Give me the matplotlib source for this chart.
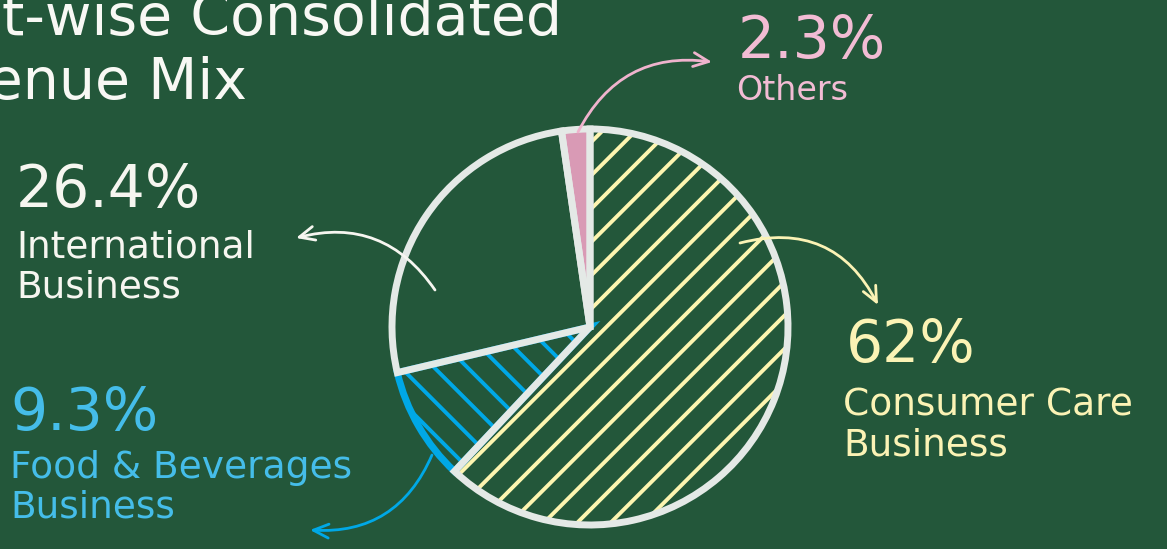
import matplotlib.pyplot as plt

# =========================
# DATA
# =========================

segments = ["Others", "International\nBusiness", "Food & Beverages\nBusiness", "Consumer Care\nBusiness"]
shares = [2.3, 26.4, 9.3, 62.0]
pct_labels = ["2.3%", "26.4%", "9.3%", "62%"]

# =========================
# STYLE
# =========================

BG = "#23573a"
CHALK = "#e4e9e6"
colors_text = ["#f2bcd4", "#f6f6f0", "#45bde9", "#fbf3b5"]
fills = ["#d99ab5", "none", "none", "none"]
hatch_cols = [None, None, "#00a8e6", "#fdf5b0"]
hatches = [None, None, "\\", "/"]

plt.rcParams['font.family'] = ['DejaVu Sans']
plt.rcParams['hatch.linewidth'] = 2.8

W, H = 1167, 549
fig = plt.figure(figsize=(W / 100, H / 100), dpi=100, facecolor=BG)
ax = fig.add_axes([0, 0, 1, 1])

def P(x, y):
    # image pixel -> data (y up)
    return (x, H - y)

center = P(590, 327)
radius = 198

# fills + hatch
wedges, _ = ax.pie(shares, startangle=90, counterclock=True, center=center,
                   radius=radius, frame=True)
for w, fc, hc, h in zip(wedges, fills, hatch_cols, hatches):
    w.set_facecolor(fc)
    if h:
        w.set_hatch(h)
        w.set_edgecolor(hc)
        w.set_linewidth(0)
    else:
        w.set_edgecolor("none")

# chalk outline
outline, _ = ax.pie(shares, startangle=90, counterclock=True, center=center,
                    radius=radius, frame=True,
                    wedgeprops=dict(fill=False, edgecolor=CHALK, linewidth=5))
outline[2].set_edgecolor("#00a8e6")
outline[2].set_zorder(outline[1].get_zorder() - 0.1)

ax.set_xlim(0, W)
ax.set_ylim(0, H)
ax.set_aspect('equal')
ax.axis('off')

# =========================
# TITLE (clipped at left edge, as in the original)
# =========================

ax.text(*P(562, 35), "Segment-wise Consolidated", ha='right', va='baseline',
        fontsize=41, color="#f8f8f4")
ax.text(*P(247, 99), "Revenue Mix", ha='right', va='baseline',
        fontsize=41, color="#f8f8f4")

# =========================
# LABELS
# =========================

pct_pos = [P(738, 58), P(16, 207), P(10, 430), P(846, 362)]
# baseline of the last line of each name
name_pos = [P(736, 100), P(16, 298), P(10, 518), P(843, 456)]
name_size = [24, 27, 27, 27]

for i in range(len(segments)):
    ax.text(*pct_pos[i], pct_labels[i], ha='left', va='baseline',
            fontsize=42, color=colors_text[i])
    ax.text(*name_pos[i], segments[i], ha='left', va='baseline',
            fontsize=name_size[i], color=colors_text[i], linespacing=1.15)

# =========================
# ARROWS
# =========================

arrows = [
    (P(578, 132), P(712, 62), -0.35, "#efb3cd"),
    (P(435, 290), P(296, 238), 0.35, "#f6f6f0"),
    (P(740, 243), P(878, 305), -0.4, "#fbf3b5"),
    (P(432, 455), P(310, 530), -0.35, "#00a8e6"),
]
for start, end, rad, c in arrows:
    ax.annotate("", xy=end, xytext=start,
                arrowprops=dict(arrowstyle="->,head_length=1.1,head_width=0.5",
                                connectionstyle=f"arc3,rad={rad}",
                                color=c, lw=2, shrinkA=0, shrinkB=0))

fig.savefig("out.png", dpi=100, facecolor=BG)
